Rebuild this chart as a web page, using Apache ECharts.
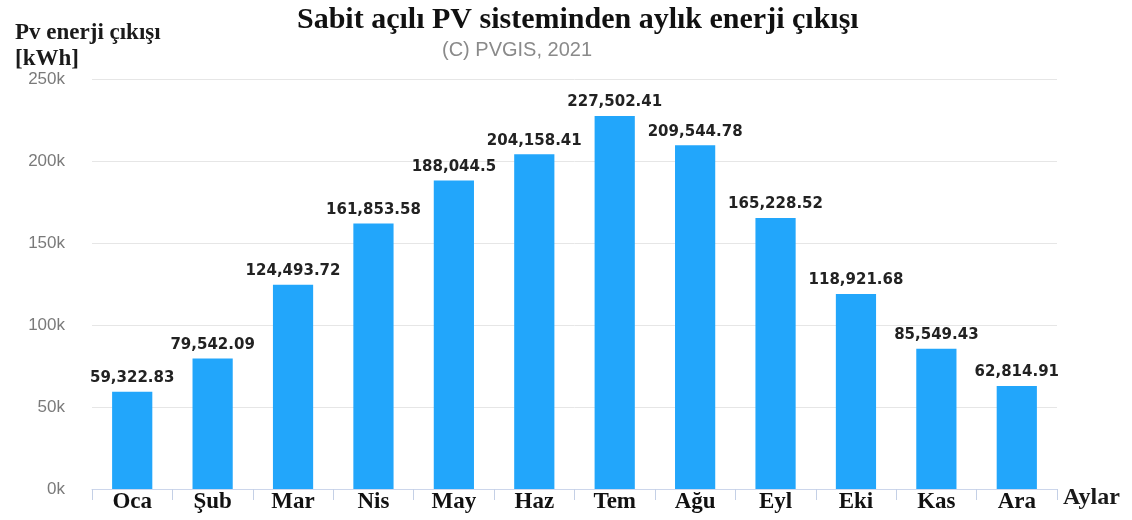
<!DOCTYPE html>
<html>
<head>
<meta charset="utf-8">
<script src="https://cdn.jsdelivr.net/npm/echarts@6/dist/echarts.min.js"></script>
<style>
html,body{margin:0;padding:0;background:#fff;}
#chart{width:1132px;height:520px;}
</style>
</head>
<body>
<div id="chart"></div>
<script>
const categories = ["Oca","Şub","Mar","Nis","May","Haz","Tem","Ağu","Eyl","Eki","Kas","Ara"];
const energyValues = [59322.83, 79542.09, 124493.72, 161853.58, 188044.5, 204158.41, 227502.41, 209544.78, 165228.52, 118921.68, 85549.43, 62814.91];
const yTicks = [0, 50000, 100000, 150000, 200000, 250000];

const chart = echarts.init(document.getElementById('chart'));
const serif = '"Liberation Serif","Times New Roman",serif';
chart.setOption({
  backgroundColor: '#ffffff',
  animation: false,
  title: [
    {
      text: 'Sabit açılı PV sisteminden aylık enerji çıkışı',
      left: 292, top: 0,
      textStyle: { fontFamily: serif, fontWeight: 'bold', fontSize: 30, color: '#111' }
    },
    {
      text: '(C) PVGIS, 2021',
      left: 437, top: 35,
      textStyle: { fontFamily: '"Liberation Sans",Arial,sans-serif', fontWeight: 'normal', fontSize: 20, color: '#8a8a8a' }
    },
    {
      text: 'Pv enerji çıkışı\n[kWh]',
      left: 10, top: 15,
      textStyle: { fontFamily: serif, fontWeight: 'bold', fontSize: 23, color: '#1a1a1a', lineHeight: 26 }
    }
  ],
  grid: { left: 92, right: 75, top: 79, bottom: 31, containLabel: false },
  xAxis: {
    type: 'category',
    data: categories,
    name: 'Aylar',
    nameLocation: 'end',
    nameGap: 6,
    nameTextStyle: { fontFamily: serif, fontWeight: 'bold', fontSize: 24, color: '#1a1a1a', verticalAlign: 'top', align: 'left', lineHeight: 18 },
    axisLine: { show: true, lineStyle: { color: '#ccd6eb', width: 1 } },
    axisTick: { show: true, length: 11, lineStyle: { color: '#c4d0e6' } },
    axisLabel: { fontFamily: serif, fontWeight: 'bold', fontSize: 23, color: '#111', margin: 2 }
  },
  yAxis: {
    type: 'value',
    min: 0, max: 250000, interval: 50000,
    axisLine: { show: false },
    axisTick: { show: false },
    axisLabel: {
      margin: 27,
      fontFamily: '"Liberation Sans",Arial,sans-serif',
      fontSize: 17, color: '#7a7a7a',
      formatter: v => yTicks.includes(v) ? (v / 1000) + 'k' : ''
    },
    splitLine: { lineStyle: { color: '#e6e6e6', width: 1 } }
  },
  series: [{
    type: 'bar',
    data: energyValues,
    barWidth: '50%',
    itemStyle: { color: '#22a6fb' },
    label: {
      show: true,
      position: 'top',
      distance: 6,
      fontFamily: '"DejaVu Sans",sans-serif',
      fontWeight: 'bold',
      fontSize: 15,
      color: '#222',
      formatter: p => p.value.toLocaleString('en-US', { maximumFractionDigits: 2 })
    }
  }]
});
</script>
</body>
</html>
